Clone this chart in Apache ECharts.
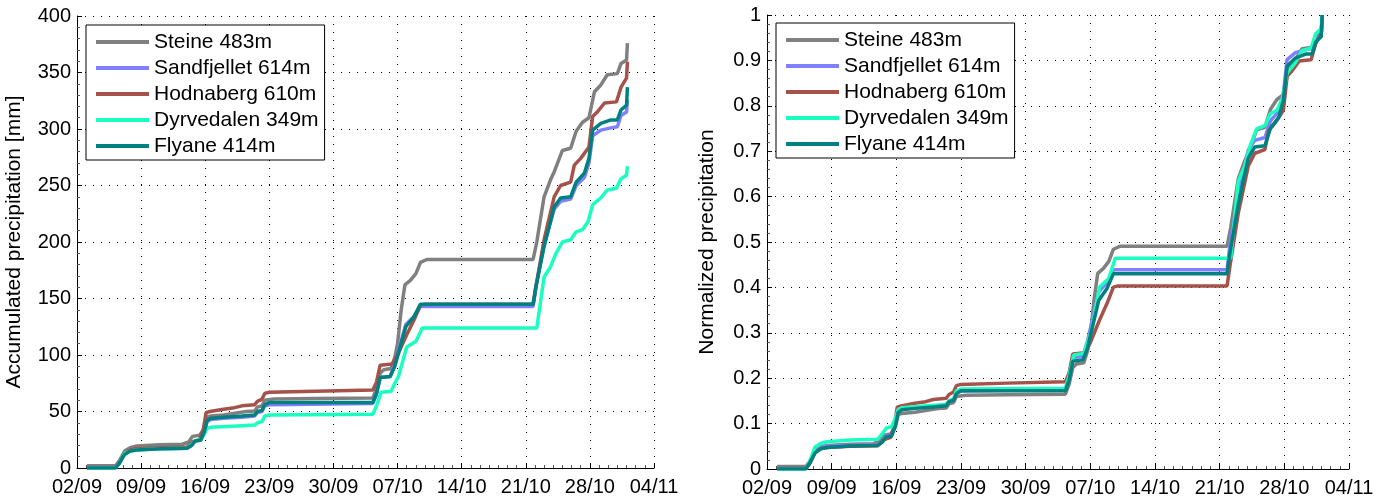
<!DOCTYPE html>
<html>
<head>
<meta charset="utf-8">
<script src="https://cdn.jsdelivr.net/npm/echarts@6/dist/echarts.min.js"></script>
<style>
  html, body { margin: 0; padding: 0; background: #fff; }
  #chart { width: 1392px; height: 503px; }
</style>
</head>
<body>
<div id="chart"></div>
<script>
// x = days since 02/09, y = accumulated precipitation in mm
var dateTicks = ['02/09', '09/09', '16/09', '23/09', '30/09', '07/10', '14/10', '21/10', '28/10', '04/11'];
var stationNames = ['Steine 483m', 'Sandfjellet 614m', 'Hodnaberg 610m', 'Dyrvedalen 349m', 'Flyane 414m'];
var stationColors = ['#808080', '#8080ff', '#a5524a', '#19ffbf', '#008080'];

var steine = [[1.1,2],[4.2,2],[4.6,6],[5.2,15],[5.8,18],[6.5,19.5],[9,20.5],[11.5,21],[12.2,23],[12.6,28],[13.4,29],[13.9,35],[14.2,45],[14.6,46],[16,47],[18.5,50],[19.4,50.5],[19.7,54],[20.2,55],[20.5,60],[21.5,61],[26,61.5],[32.3,62],[32.7,70],[33.1,84],[33.5,87],[34.3,88],[34.7,98],[35.0,110],[35.4,140],[35.8,162],[36.4,166],[37.0,172],[37.5,182],[38.2,184.5],[49.8,184.5],[50.2,200],[51,240],[51.7,255],[52.1,262],[53,281],[53.9,283],[54.5,298],[55.2,306],[55.9,310],[56.5,333],[57.2,339],[57.9,348],[59,349],[59.4,358],[60,361],[60.1,376]];
var sandfjellet = [[1.1,0.5],[4.2,0.5],[4.6,4],[5.2,12.5],[5.8,15.5],[6.5,16.5],[9,17],[12,17.5],[12.5,20],[12.9,24],[13.5,24.5],[13.9,32],[14.2,41],[14.6,43],[16,44],[18,45],[19.4,46],[19.7,49],[20.2,50],[20.5,55],[21,56],[32.3,57],[32.7,65],[33.1,80],[34.2,81],[34.7,92],[35.9,127],[36.8,134],[37.5,143],[49.8,143],[50.1,160],[51,198],[52.1,229],[52.8,236],[53.9,238],[54.5,250],[55.4,257],[55.9,270],[56.3,294],[57.2,299],[58.3,301],[59,302],[59.4,312],[60,315],[60.1,326]];
var hodnaberg = [[1.1,0.5],[4.2,0.5],[4.6,4],[5.2,13],[5.8,16],[6.5,17],[9,18],[12,18.5],[12.6,23],[13.4,25],[13.8,35],[14.1,49],[14.5,50],[16,52],[17,53],[18,55],[19.4,56],[19.7,59],[20.2,61],[20.5,66],[21,67],[26,68],[32.3,69],[32.7,76],[33.1,91],[34.4,92],[35,100],[36,118],[36.8,131],[37.5,144],[38,145],[49.8,145],[50.1,160],[51,202],[52.1,240],[52.8,250],[53.9,253],[54.3,268],[55,274],[55.9,284],[56.3,311],[56.8,315],[57.6,323],[58.9,324],[59.4,337],[60,345],[60.1,359.5]];
var dyrvedalen = [[1.1,0],[4.2,0],[4.6,4],[5.2,13],[5.8,15],[6.5,16],[9,17],[12,17.5],[12.5,21],[12.9,24],[13.5,25],[13.9,30],[14.2,35],[14.6,36],[17,37],[19.4,38],[19.7,40],[20.2,41],[20.5,46],[21,47],[32.3,47.5],[32.7,55],[33.2,67],[34.3,68],[34.7,75],[35.1,81],[36,107],[37,112],[37.7,124],[50.2,124],[51,169],[51.7,178],[52.3,190],[53,200],[53.9,202],[54.5,209],[55.2,211],[55.8,218],[56.3,233],[57.2,239],[57.9,246],[58.9,247.5],[59.4,256],[60,259],[60.1,267]];
var flyane = [[1.1,0],[4.2,0],[4.6,4],[5.2,12],[5.8,15],[6.5,16],[9,17],[12,17.5],[12.5,20],[12.9,24],[13.5,24.5],[13.9,32],[14.2,42],[14.6,44],[16,45],[18,46],[19.4,47],[19.7,50],[20.2,51],[20.5,56],[21,58],[32.3,58],[32.7,66],[33.1,80],[34.2,81],[34.7,90],[35.9,125],[36.8,134],[37.5,145],[49.8,145],[50.1,160],[51,196],[52.1,231],[52.8,239],[53.9,240],[54.5,253],[55.4,261],[55.9,274],[56.3,299],[57.2,305],[58.3,308],[59,308],[59.4,317],[60,321],[60.1,337]];

var allData = [steine, sandfjellet, hodnaberg, dyrvedalen, flyane];

// normalized = accumulated / final total of each station
function normalize(arr) {
    var total = arr[arr.length - 1][1];
    return arr.map(function (p) { return [p[0], p[1] / total]; });
}

var font = 'Liberation Sans';
var gridLine = { show: true, lineStyle: { color: '#000', type: [1, 7], width: 1 } };

function xAxis(idx) {
    return {
        type: 'value', gridIndex: idx, min: 0, max: 63, interval: 7,
        axisLine: { show: true, lineStyle: { color: '#000' } },
        axisTick: { show: true, inside: true, length: 5, lineStyle: { color: '#000' } },
        minorTick: { show: true, splitNumber: 7, length: 3, lineStyle: { color: '#555' } },
        axisLabel: {
            color: '#000', fontFamily: font, fontSize: 20, margin: 9,
            formatter: function (v) { return dateTicks[Math.round(v / 7)]; }
        },
        splitLine: gridLine
    };
}

function yAxis(idx, max, interval, name, gap) {
    return {
        type: 'value', gridIndex: idx, min: 0, max: max, interval: interval,
        name: name, nameLocation: 'middle', nameGap: gap,
        nameTextStyle: { color: '#000', fontFamily: font, fontSize: 21 },
        axisLine: { show: true, lineStyle: { color: '#000' } },
        axisTick: { show: true, inside: true, length: 5, lineStyle: { color: '#000' } },
        minorTick: { show: true, splitNumber: 5, length: 3, lineStyle: { color: '#555' } },
        axisLabel: { color: '#000', fontFamily: font, fontSize: 20, margin: 6 },
        splitLine: gridLine
    };
}

function legend(left, top) {
    return {
        left: left, top: top, orient: 'vertical',
        data: stationNames,
        icon: 'rect', itemWidth: 53, itemHeight: 4, itemGap: 0,
        padding: [4, 6, 1, 10],
        borderColor: '#000', borderWidth: 1, backgroundColor: '#fff',
        textStyle: { color: '#000', fontFamily: font, fontSize: 21, lineHeight: 26 }
    };
}

var series = [];
allData.forEach(function (d, i) {
    series.push({
        name: stationNames[i], type: 'line', xAxisIndex: 0, yAxisIndex: 0,
        data: d, showSymbol: false, symbol: 'none', animation: false,
        lineStyle: { width: 3.5, color: stationColors[i] }, itemStyle: { color: stationColors[i] }
    });
});
allData.forEach(function (d, i) {
    series.push({
        name: stationNames[i], type: 'line', xAxisIndex: 1, yAxisIndex: 1,
        data: normalize(d), showSymbol: false, symbol: 'none', animation: false,
        lineStyle: { width: 3.5, color: stationColors[i] }, itemStyle: { color: stationColors[i] }
    });
});

var myChart = echarts.init(document.getElementById('chart'));
var option = {
    backgroundColor: '#fff',
    animation: false,
    grid: [
        { left: 77, top: 16, width: 577, height: 452 },
        { left: 767, top: 15, width: 582, height: 454 }
    ],
    legend: [legend(86, 25), legend(776, 23)],
    xAxis: [xAxis(0), xAxis(1)],
    yAxis: [
        yAxis(0, 400, 50, 'Accumulated precipitation [mm]', 52),
        yAxis(1, 1, 0.1, 'Normalized precipitation', 49)
    ],
    series: series
};
myChart.setOption(option);
</script>
</body>
</html>
